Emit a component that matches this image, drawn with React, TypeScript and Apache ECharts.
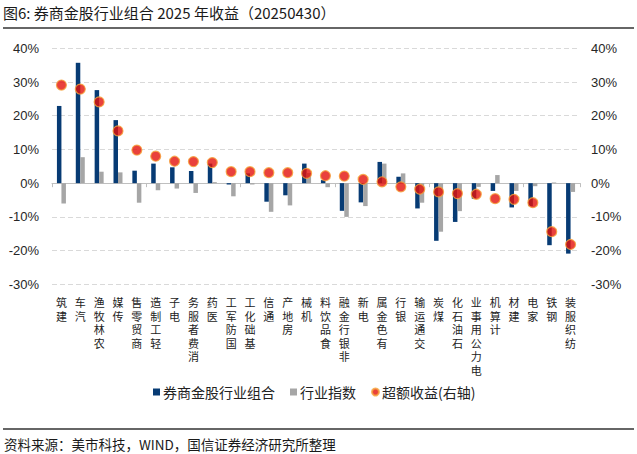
import React, { useEffect, useRef } from "react";
import * as echarts from "echarts";

const categories = ["建筑", "汽车", "农林牧渔", "传媒", "商贸零售", "轻工制造", "电子", "消费者服务", "医药", "国防军工", "基础化工", "通信", "房地产", "机械", "食品饮料", "非银行金融", "电新", "有色金属", "银行", "交通运输", "煤炭", "石油石化", "电力公用事业", "计算机", "建材", "家电", "钢铁", "纺织服装"];
const portfolioReturn = [22.9, 35.7, 27.6, 18.7, 3.7, 5.8, 4.7, 3.6, 5.8, -0.4, 2.9, -5.5, -3.6, 5.8, 0.9, -8.2, -5.7, 6.3, 1.9, -7.5, -17.1, -11.5, -4.6, -2.3, -7.2, -6.8, -18.4, -20.9];
const indexReturn = [-6.0, 7.7, 3.4, 3.2, -5.8, -2.1, -1.6, -2.9, 0.3, -3.9, -0.4, -8.5, -6.6, 3.0, -1.2, -10.0, -6.8, 5.8, 2.9, -5.8, -14.4, -8.3, -1.1, 2.4, -2.3, -0.9, 0.2, -2.6];
const excessReturn = [29.1, 27.9, 24.1, 15.5, 9.8, 8.0, 6.5, 6.4, 6.1, 3.4, 3.4, 3.1, 3.1, 2.9, 2.2, 2.1, 1.1, 0.4, -1.1, -1.8, -2.6, -3.1, -3.3, -4.6, -4.8, -5.8, -14.4, -18.2];
const seriesNames = ["券商金股行业组合", "行业指数", "超额收益(右轴)"];
const titleText = "图6: 券商金股行业组合 2025 年收益（20250430）";
const sourceText = "资料来源：美市科技，WIND，国信证券经济研究所整理";

const CJK = "'Noto Sans CJK SC', 'Noto Sans', sans-serif";
const LAT = "'Liberation Sans', Arial, sans-serif";

export default function App() {
  const ref = useRef<HTMLDivElement>(null);
  useEffect(() => {
    if (!ref.current) return;
    const chart = echarts.init(ref.current, null, { renderer: "svg" });
    const yCommon = {
      type: "value",
      min: -30,
      max: 40,
      interval: 10,
      axisLine: { show: false },
      axisTick: { show: false },
    };
    chart.setOption({
      animation: false,
      backgroundColor: "#ffffff",
      grid: { left: 52, right: 57, top: 48.3, bottom: 169.7 },
      legend: {
        left: 148,
        top: 380,
        itemWidth: 7,
        itemHeight: 7,
        itemGap: 15,
        data: [
          { name: seriesNames[0], icon: "rect" },
          { name: seriesNames[1], icon: "rect" },
          { name: seriesNames[2], icon: "circle" },
        ],
        textStyle: { fontFamily: CJK, fontSize: 14, color: "#222", padding: [0, 0, 0, -2] },
      },
      xAxis: [
        {
          type: "category",
          data: categories,
          position: "bottom",
          axisLine: { show: true, onZero: true, lineStyle: { color: "#bfbfbf", width: 1 } },
          axisTick: { show: true, length: 4, lineStyle: { color: "#bfbfbf" } },
          axisLabel: { show: false },
        },
        {
          type: "category",
          data: categories,
          position: "bottom",
          axisLine: { show: false, onZero: false },
          axisTick: { show: false },
          axisLabel: {
            interval: 0,
            margin: 11,
            fontFamily: CJK,
            fontSize: 11,
            lineHeight: 13.6,
            color: "#222",
            verticalAlign: "top",
            formatter: (v: string) => v.split("").reverse().join("\n"),
          },
        },
      ],
      yAxis: [
        {
          ...yCommon,
          position: "left",
          axisLabel: { formatter: "{value}%", fontFamily: LAT, fontSize: 13, color: "#262626", margin: 13 },
          splitLine: { show: true, lineStyle: { color: "#d9d9d9", type: [5, 3], width: 1 } },
        },
        {
          ...yCommon,
          position: "right",
          axisLabel: { formatter: "{value}%", fontFamily: LAT, fontSize: 13, color: "#262626", margin: 11 },
          splitLine: { show: false },
        },
      ],
      series: [
        {
          name: seriesNames[0],
          type: "bar",
          xAxisIndex: 0,
          yAxisIndex: 0,
          data: portfolioReturn,
          barWidth: 4.5,
          barGap: "0%",
          itemStyle: { color: "#073b74" },
        },
        {
          name: seriesNames[1],
          type: "bar",
          xAxisIndex: 0,
          yAxisIndex: 0,
          data: indexReturn,
          barWidth: 4.5,
          barGap: "0%",
          itemStyle: { color: "#a6a6a6" },
        },
        {
          name: seriesNames[2],
          type: "scatter",
          xAxisIndex: 0,
          yAxisIndex: 1,
          data: excessReturn,
          symbol: "circle",
          symbolSize: 10,
          itemStyle: { color: "#e3120b", borderColor: "#f6a33a", borderWidth: 1.2 },
          z: 5,
        },
      ],
      graphic: [
        {
          type: "text",
          left: 3,
          top: 5,
          style: { text: titleText, fontFamily: CJK, fontSize: 15, fill: "#1a1a1a" },
        },
        {
          type: "line",
          shape: { x1: 3, y1: 28, x2: 634, y2: 28 },
          style: { stroke: "#333", lineWidth: 1.5 },
        },
        {
          type: "line",
          shape: { x1: 3, y1: 429, x2: 634, y2: 429 },
          style: { stroke: "#333", lineWidth: 1.5 },
        },
        {
          type: "text",
          left: 4,
          top: 437,
          style: { text: sourceText, fontFamily: CJK, fontSize: 13.5, fill: "#1a1a1a" },
        },
      ],
    });
    return () => chart.dispose();
  }, []);
  return (
    <div
      ref={ref}
      style={{ position: "fixed", left: 0, top: 0, width: 637, height: 454, background: "#fff" }}
    />
  );
}
